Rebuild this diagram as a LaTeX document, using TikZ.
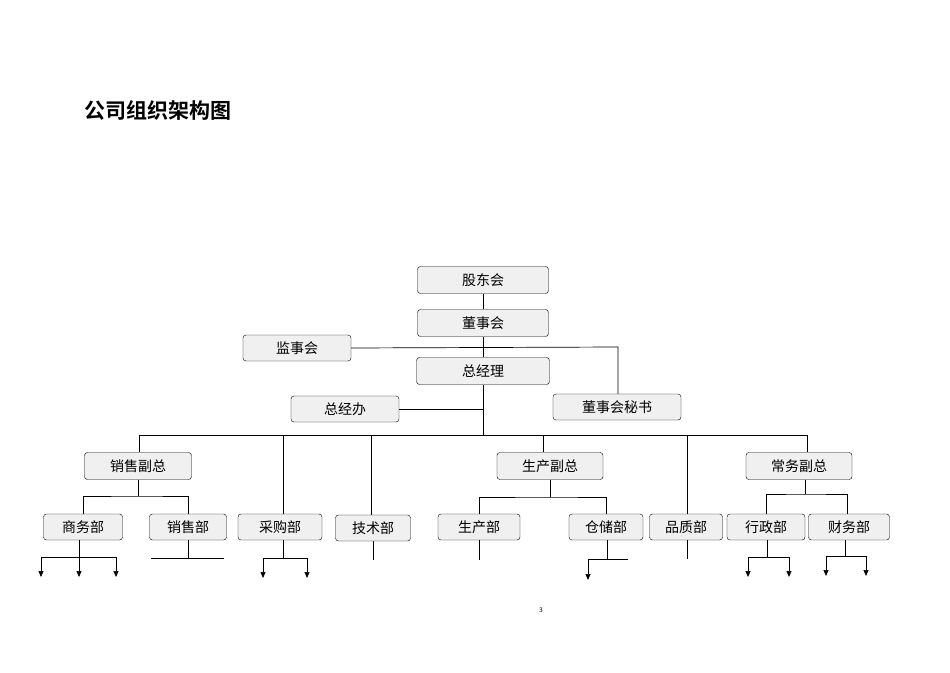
\documentclass[tikz,border=0pt]{standalone}
\usepackage{fontspec}
\newfontfamily\cjk{Noto Sans CJK SC}
\newfontfamily\cjkb{Noto Sans CJK SC Bold}
\usetikzlibrary{arrows.meta}
\begin{document}
\begin{tikzpicture}[x=1pt,y=-1pt,
  box/.style={draw,rounded corners=3pt,fill=gray!12,minimum height=27pt,inner sep=0pt,font=\cjk\fontsize{14}{16}\selectfont},
  ln/.style={draw,line width=0.7pt},
  arr/.style={ln,-{Triangle[width=5pt,length=6pt]}}]
\useasboundingbox (0,0) rectangle (950,672);
\node[anchor=west,font=\cjkb\fontsize{21}{24}\selectfont] (title) at (81,110) {公司组织架构图};
\node[font=\sffamily\fontsize{7}{8}\selectfont] (pg) at (541,610) {3};
\node[box,minimum width=131pt] (gd) at (483,280) {股东会};
\node[box,minimum width=131pt] (ds) at (483,323) {董事会};
\node[box,minimum width=108pt,minimum height=26pt] (js) at (297,348) {监事会};
\node[box,minimum width=133pt] (zjl) at (483,371) {总经理};
\node[box,minimum width=108pt,minimum height=26pt] (zjb) at (345,409) {总经办};
\node[box,minimum width=128pt,minimum height=26pt] (dm) at (617,407) {董事会秘书};
\node[box,minimum width=107pt] (xf) at (138,466) {销售副总};
\node[box,minimum width=106pt] (sf) at (550,466) {生产副总};
\node[box,minimum width=106pt] (cf) at (799,466) {常务副总};
\node[box,minimum width=79pt,minimum height=26pt] (sw) at (83,527) {商务部};
\node[box,minimum width=77pt,minimum height=26pt] (xs) at (188,527) {销售部};
\node[box,minimum width=84pt,minimum height=26pt] (cg) at (280,527) {采购部};
\node[box,minimum width=75pt,minimum height=26pt] (js2) at (373,528) {技术部};
\node[box,minimum width=82pt,minimum height=26pt] (sc) at (479,527) {生产部};
\node[box,minimum width=74pt,minimum height=26pt] (cc) at (606,527) {仓储部};
\node[box,minimum width=73pt,minimum height=26pt] (pz) at (686,527) {品质部};
\node[box,minimum width=78pt,minimum height=26pt] (xz) at (766,527) {行政部};
\node[box,minimum width=81pt,minimum height=26pt] (cw) at (849,527) {财务部};
% top chain
\draw[ln] (gd) -- (ds);
\draw[ln] (ds) -- (zjl);
\draw[ln] (js.east) -- (618,347) -- (dm.north -| 618,0);
\draw[ln] (zjb.east) -- (483,409);
\draw[ln] (zjl.south) -- (483,435);
\draw[ln] (139,435) -- (807,435);
\draw[ln] (139,435) -- (xf.north -| 139,0);
\draw[ln] (283,435) -- (cg.north -| 283,0);
\draw[ln] (371,435) -- (js2.north -| 371,0);
\draw[ln] (543,435) -- (sf.north -| 543,0);
\draw[ln] (687,435) -- (pz.north -| 687,0);
\draw[ln] (807,435) -- (cf.north -| 807,0);
% second level
\draw[ln] (xf.south) -- (138,496);
\draw[ln] (sw.north) |- (138,496) -| (xs.north);
\draw[ln] (sf.south) -- (550,497);
\draw[ln] (sc.north) |- (550,497) -| (cc.north);
\draw[ln] (cf.south -| 805,0) -- (805,494);
\draw[ln] (xz.north) |- (805,494) -| (847,0 |- cw.north);
% bottom
\draw[ln] (sw.south -| 79,0) -- (79,557);
\draw[ln] (41,557) -- (116,557);
\draw[arr] (41,557) -- (41,577);
\draw[arr] (79,557) -- (79,577);
\draw[arr] (116,557) -- (116,577);
\draw[ln] (xs.south) -- (188,558);
\draw[ln] (151,558) -- (224,558);
\draw[ln] (cg.south -| 283,0) -- (283,558);
\draw[ln] (263,558) -- (307,558);
\draw[arr] (263,558) -- (263,578);
\draw[arr] (307,558) -- (307,578);
\draw[ln] (js2.south) -- (373,560);
\draw[ln] (sc.south) -- (479,560);
\draw[ln] (cc.south -| 607,0) -- (607,559);
\draw[ln] (588,559) -- (628,559);
\draw[arr] (588,559) -- (588,580);
\draw[ln] (pz.south -| 687,0) -- (687,559);
\draw[ln] (xz.south -| 767,0) -- (767,557);
\draw[ln] (748,557) -- (789,557);
\draw[arr] (748,557) -- (748,577);
\draw[arr] (789,557) -- (789,577);
\draw[ln] (cw.south -| 845,0) -- (845,556);
\draw[ln] (826,556) -- (866,556);
\draw[arr] (826,556) -- (826,576);
\draw[arr] (866,556) -- (866,576);
\end{tikzpicture}
\end{document}
